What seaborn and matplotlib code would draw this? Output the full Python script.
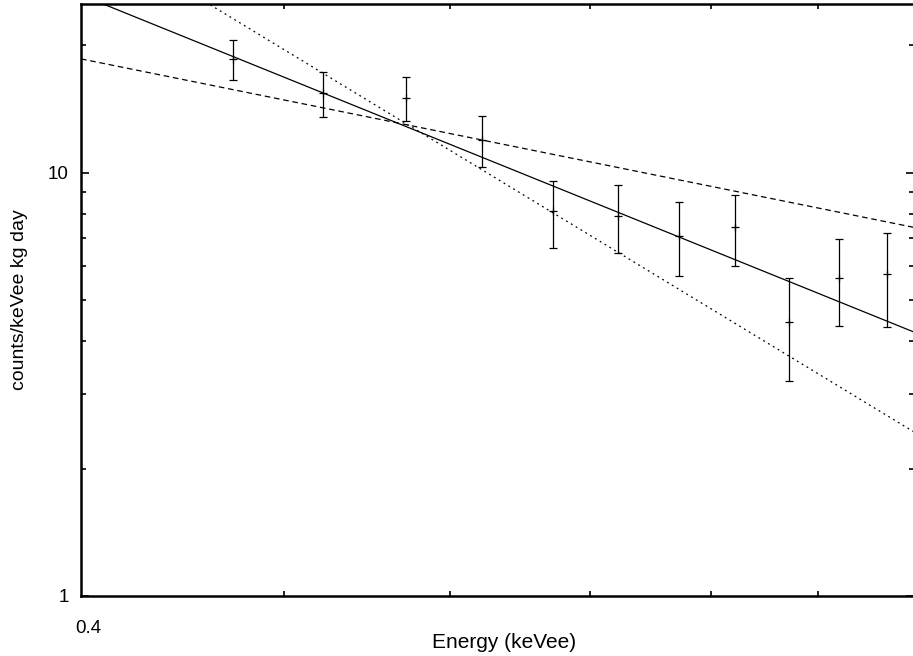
import numpy as np
import pandas as pd
import matplotlib
matplotlib.use("Agg")
import matplotlib.pyplot as plt
import matplotlib.ticker as mticker
import matplotlib.transforms as mtransforms
import seaborn as sns

# ---- data ----
energy = [0.473, 0.522, 0.572, 0.622, 0.672, 0.722, 0.772, 0.821, 0.872, 0.921, 0.971]
rate = [18.5, 15.4, 15.0, 11.95, 8.1, 7.9, 7.1, 7.42, 4.43, 5.65, 5.75]
rate_err = [2.0, 1.85, 1.8, 1.65, 1.46, 1.46, 1.4, 1.41, 1.21, 1.3, 1.43]

# power-law curves  A * E^-p  (A at E = 1 keVee)
fit_names = ["E^-2", "E^-3", "E^-1"]
fit_amplitude = [4.2, 2.44, 7.42]
fit_index = [2.0, 3.0, 1.0]
fit_styles = {"E^-2": "", "E^-3": (1.5, 3.0), "E^-1": (4.5, 3.0)}

xlim = (0.4, 1.0)
ylim = (1.0, 25.0)
x_ticklabels = ["0.4"]
y_ticklabels = ["1", "10"]

sns.set_theme(style="white")
plt.rcParams["font.family"] = ["Liberation Sans", "DejaVu Sans"]

fig = plt.figure(figsize=(9.13, 6.56), dpi=100)
ax = fig.add_axes([81 / 913, 1 - 596 / 656, (914 - 81) / 913, (596 - 4) / 656])

grid = np.geomspace(xlim[0], xlim[1], 200)
rows = []
for name, a, p in zip(fit_names, fit_amplitude, fit_index):
    for e in grid:
        rows.append({"E": e, "rate": a * e ** (-p), "fit": name})
curves = pd.DataFrame(rows)

sns.lineplot(data=curves, x="E", y="rate", style="fit", dashes=fit_styles,
             color="black", linewidth=0.9, legend=False, ax=ax)

ax.errorbar(energy, rate, yerr=rate_err, fmt="none", ecolor="black",
            elinewidth=0.9, capsize=3, capthick=0.9)
pts = pd.DataFrame({"E": energy, "rate": rate})
sns.scatterplot(data=pts, x="E", y="rate", marker="+", s=40, color="black",
                linewidth=0.9, ax=ax, zorder=5)

ax.set_xscale("log")
ax.set_yscale("log")
ax.set_xlim(*xlim)
ax.set_ylim(*ylim)

ax.xaxis.set_major_locator(mticker.FixedLocator([0.4]))
ax.xaxis.set_major_formatter(mticker.FixedFormatter(x_ticklabels))
ax.xaxis.set_minor_locator(mticker.FixedLocator([0.5, 0.6, 0.7, 0.8, 0.9]))
ax.xaxis.set_minor_formatter(mticker.NullFormatter())
ax.yaxis.set_major_locator(mticker.FixedLocator([1, 10]))
ax.yaxis.set_major_formatter(mticker.FixedFormatter(y_ticklabels))
ax.yaxis.set_minor_locator(mticker.FixedLocator([2, 3, 4, 5, 6, 7, 8, 9, 20]))
ax.yaxis.set_minor_formatter(mticker.NullFormatter())

ax.tick_params(axis="both", which="both", direction="in", color="black",
               left=True, bottom=True, top=True, right=True,
               labelsize=13.5, labelcolor="black")
ax.tick_params(axis="y", which="major", length=6, width=1.2, pad=9)
ax.tick_params(axis="y", which="minor", length=3.5, width=1.2)
ax.tick_params(axis="x", which="major", length=0, pad=17)
ax.tick_params(axis="x", which="minor", length=3.5, width=1.2)

for s in ax.spines.values():
    s.set_color("black")
    s.set_linewidth(1.8)
    s.set_visible(True)

offset = mtransforms.ScaledTranslation(7 / 100, 0, fig.dpi_scale_trans)
for lbl in ax.get_xticklabels():
    lbl.set_transform(lbl.get_transform() + offset)

ax.set_xlabel("Energy (keVee)", fontsize=15, color="black", labelpad=0)
ax.xaxis.set_label_coords(0.508, -0.063)
ax.set_ylabel("counts/keVee kg day", fontsize=14, color="black")
ax.yaxis.set_label_coords(-0.064, 0.5)

fig.savefig("out.png", dpi=100)
